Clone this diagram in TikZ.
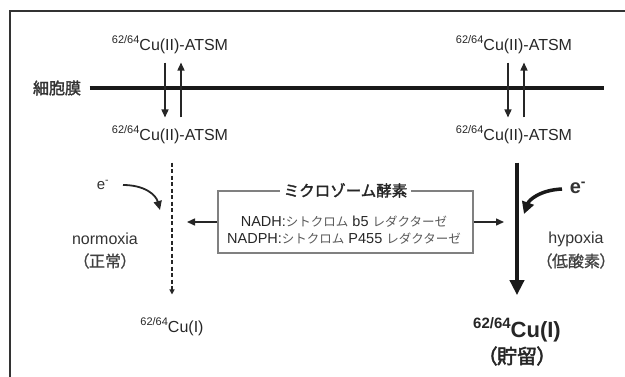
\documentclass[tikz,border=0pt]{standalone}
\usepackage{fontspec}
\setmainfont{Liberation Sans}
\newfontfamily\jp{Noto Sans CJK JP}
\newfontfamily\jpb[FakeBold=2]{Noto Sans CJK JP}
\newfontfamily\jpp[RawFeature=+palt, FakeBold=1]{Noto Sans CJK JP}
\newfontfamily\jppb[RawFeature=+palt, FakeBold=2.5]{Noto Sans CJK JP}
\usetikzlibrary{arrows.meta,positioning,calc}

\newcommand{\iso}[1]{\raisebox{0.42em}{\fontsize{11}{12}\selectfont #1}}
\newcommand{\isob}[1]{\raisebox{0.42em}{\fontsize{15}{16}\selectfont\bfseries #1}}
\newcommand{\kana}[1]{{\jp\fontsize{12.5}{14}\selectfont\color{black!65}#1}}

\begin{document}
\begin{tikzpicture}[
    x=1pt, y=-1pt,
    chem/.style={font=\fontsize{16}{18}\selectfont, text=black!85},
    chembold/.style={font=\fontsize{22}{24}\selectfont\bfseries, text=black!85},
    cond/.style={font=\fontsize{16}{18}\selectfont, text=black!80, inner sep=1pt},
    jplabel/.style={font=\jpp\fontsize{16}{18}\selectfont, text=black!75, inner sep=1pt},
    enzbox/.style={rectangle, draw=black!50, line width=1.2pt, minimum width=255pt, minimum height=62pt, inner sep=0pt},
    enzline/.style={font=\fontsize{14.5}{16}\selectfont, text=black!85, inner sep=1pt},
    arrow/.style={-{Triangle[length=8pt,width=7pt]}, line width=1.5pt, black!85},
    membrane/.style={line width=4pt, black!90},
    dasharrow/.style={-{Triangle[length=5pt,width=5pt]}, line width=1.6pt, dash pattern=on 4pt off 2.5pt, black!85},
    bigarrow/.style={-{Triangle[length=15pt,width=14pt]}, line width=4pt, black!90}
]

% Frame and canvas
\useasboundingbox (0,0) rectangle (625,376);
\draw[line width=1.5pt, black!80] (10,377) -- (10,11) -- (626,11);

% Membrane
\node[font=\jpb\fontsize{16}{18}\selectfont, text=black!80] (membL) at (57,88) {細胞膜};
\coordinate (membR) at (604,88);
\draw[membrane, shorten <=5pt] (membL.east) -- (membR);

% Cu(II)-ATSM, outside and inside
\node[chem] (atsmTL) at (170,45) {\iso{62/64}Cu(II)-ATSM};
\node[chem] (atsmBL) at (170,135) {\iso{62/64}Cu(II)-ATSM};
\node[chem] (atsmTR) at (514,45) {\iso{62/64}Cu(II)-ATSM};
\node[chem] (atsmBR) at (514,135) {\iso{62/64}Cu(II)-ATSM};

% Transport across membrane
\draw[arrow, shorten <=5pt, shorten >=5pt] ([xshift=-5pt]atsmTL.south) -- ([xshift=-5pt]atsmBL.north);
\draw[arrow, shorten <=5pt, shorten >=5pt] ([xshift=11pt]atsmBL.north) -- ([xshift=11pt]atsmTL.south);
\draw[arrow, shorten <=5pt, shorten >=5pt] ([xshift=-6pt]atsmTR.south) -- ([xshift=-6pt]atsmBR.north);
\draw[arrow, shorten <=5pt, shorten >=5pt] ([xshift=10pt]atsmBR.north) -- ([xshift=10pt]atsmTR.south);

% Cu(I) products
\node[chem] (cuL) at (172,327) {\iso{62/64}Cu(I)};
\node[chembold] (cuR) at (517,330) {\isob{62/64}Cu(I)};
\node[font=\jppb\fontsize{20}{22}\selectfont, text=black!85, inner sep=1pt] (keep) at (517,356) {（貯留）};

% Reduction paths
\draw[dasharrow, shorten <=15pt, shorten >=20pt] (cuL.north |- atsmBL.south) -- (cuL.north);
\draw[bigarrow, shorten <=15pt, shorten >=19pt] (cuR.north |- atsmBR.south) -- (cuR.north);

% Microsomal enzymes
\node[enzbox] (enz) at (345.5,222) {};
\node[font=\jpb\fontsize{15.5}{17}\selectfont, text=black!85, fill=white, inner sep=4pt] (enzT) at (enz.north) {ミクロゾーム酵素};
\node[enzline] (enzA) at (344,222) {NADH:\kana{シトクロム} b5 \kana{レダクターゼ}};
\node[enzline] (enzB) at (344,239) {NADPH:\kana{シトクロム} P455 \kana{レダクターゼ}};
\draw[arrow, shorten >=15pt] (enz.west) -- (enz.west -| cuL.north);
\draw[arrow, shorten >=13pt] (enz.east) -- (enz.east -| cuR.north);

% Electrons
\node[cond, font=\fontsize{15}{17}\selectfont] (eL) at (103,185) {e\textsuperscript{-}};
\coordinate (eLend) at (160,210);
\draw[-{Triangle[length=9pt,width=8pt]}, line width=1.8pt, black!85] (123,185) .. controls (145,185) and (156,195) .. (eLend);
\node[cond, font=\fontsize{20}{22}\selectfont\bfseries] (eR) at (578,188) {e\textsuperscript{-}};
\coordinate (eRend) at (524,214);
\draw[-{Triangle[length=12pt,width=12pt]}, line width=3.5pt, black!90] (562,189) .. controls (540,190) and (529,200) .. (eRend);

% Conditions
\node[cond] (normo) at (105,239) {normoxia};
\node[jplabel] (normoJ) at (105,261) {（正常）};
\node[cond] (hypo) at (576,239) {hypoxia};
\node[jplabel] (hypoJ) at (576,261) {（低酸素）};

\end{tikzpicture}
\end{document}
